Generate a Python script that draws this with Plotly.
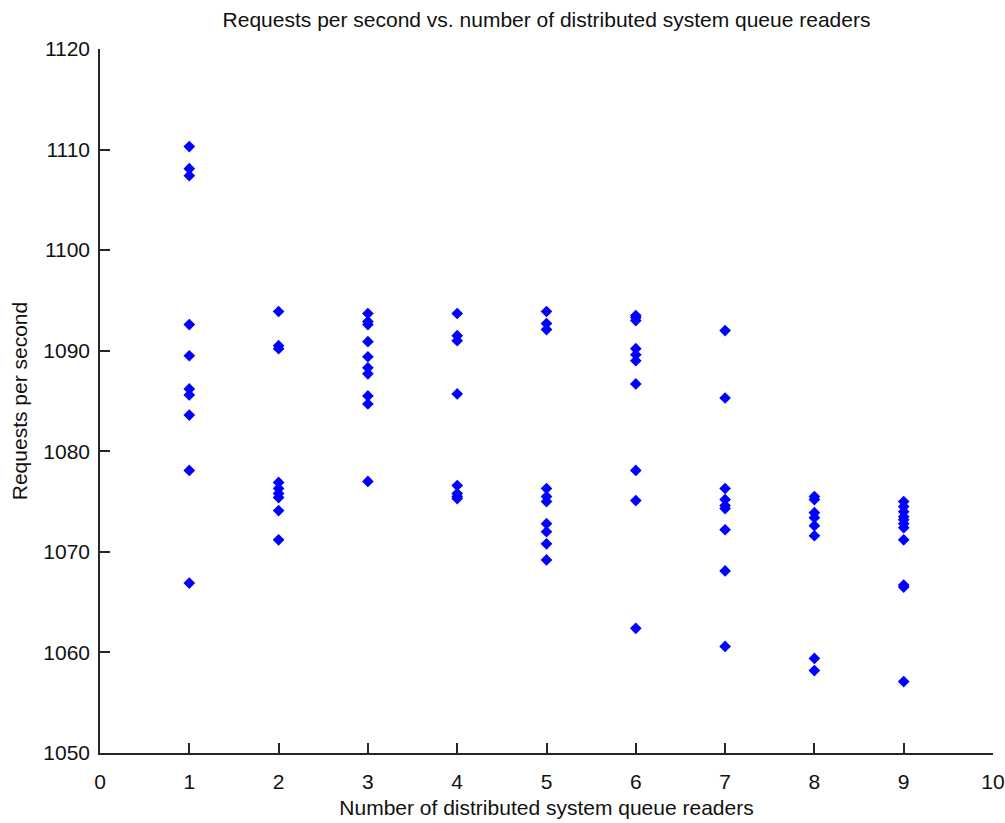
import plotly.graph_objects as go

# Throughput samples (requests per second) for each number of queue readers
readers_1 = [1110.3, 1108.1, 1107.4, 1092.6, 1089.5, 1086.2, 1085.6, 1083.6, 1078.1, 1066.9]
readers_2 = [1093.9, 1090.5, 1090.2, 1076.9, 1076.3, 1075.8, 1075.4, 1074.1, 1071.2]
readers_3 = [1093.7, 1092.9, 1092.6, 1090.9, 1089.4, 1088.3, 1087.7, 1085.5, 1084.7, 1077.0]
readers_4 = [1093.7, 1091.5, 1091.0, 1085.7, 1076.6, 1075.8, 1075.5, 1075.3]
readers_5 = [1093.9, 1092.7, 1092.1, 1076.3, 1075.5, 1075.0, 1072.8, 1072.0, 1070.8, 1069.2]
readers_6 = [1093.5, 1093.3, 1093.0, 1090.2, 1089.6, 1089.0, 1086.7, 1078.1, 1075.1, 1062.4]
readers_7 = [1092.0, 1085.3, 1076.3, 1075.2, 1074.6, 1074.3, 1072.2, 1068.1, 1060.6]
readers_8 = [1075.5, 1075.2, 1073.9, 1073.4, 1072.6, 1071.6, 1059.4, 1058.2]
readers_9 = [1075.0, 1074.5, 1074.0, 1073.5, 1073.2, 1072.8, 1072.4, 1071.2, 1066.7, 1066.5, 1057.1]

reader_counts = [1, 2, 3, 4, 5, 6, 7, 8, 9]
samples = [readers_1, readers_2, readers_3, readers_4, readers_5,
           readers_6, readers_7, readers_8, readers_9]

x_vals = []
y_vals = []
for n, vals in zip(reader_counts, samples):
    x_vals.extend([n] * len(vals))
    y_vals.extend(vals)

x_ticks = list(range(0, 11))
y_ticks = list(range(1050, 1121, 10))

font_family = "Liberation Sans, Arial, sans-serif"
axis_color = "#262626"
text_color = "#111111"

fig = go.Figure()
fig.add_trace(go.Scatter(
    x=x_vals, y=y_vals, mode="markers",
    marker=dict(symbol="diamond", size=9, color="#0000FF",
                line=dict(width=0)),
    showlegend=False,
))

fig.update_layout(
    width=1005, height=823,
    margin=dict(l=100, r=12, t=49, b=70, autoexpand=False),
    paper_bgcolor="white", plot_bgcolor="white",
    font=dict(family=font_family, size=21, color=text_color),
    title=dict(text="Requests per second vs. number of distributed system queue readers",
               x=(100 + 993) / 2 / 1005, xanchor="center",
               y=1 - 20 / 823, yanchor="middle",
               font=dict(family=font_family, size=21, color=text_color)),
)

fig.update_xaxes(
    range=[0, 10], tickvals=x_ticks, ticktext=[str(v) for v in x_ticks],
    showgrid=False, zeroline=False, automargin=False,
    showline=True, linecolor=axis_color, linewidth=1.5,
    ticks="inside", ticklen=10, tickwidth=1.5, tickcolor=axis_color,
    ticklabelstandoff=9,
    tickfont=dict(family=font_family, size=21, color=text_color),
    title=dict(text="Number of distributed system queue readers", standoff=8,
               font=dict(family=font_family, size=21, color=text_color)),
)
fig.update_yaxes(
    range=[1050, 1120], tickvals=y_ticks, ticktext=[str(v) for v in y_ticks],
    showgrid=False, zeroline=False, automargin=False,
    showline=True, linecolor=axis_color, linewidth=1.5,
    ticks="inside", ticklen=10, tickwidth=1.5, tickcolor=axis_color,
    ticklabelstandoff=4,
    tickfont=dict(family=font_family, size=21, color=text_color),
    title=dict(text="Requests per second", standoff=10,
               font=dict(family=font_family, size=21, color=text_color)),
)

fig.write_html("out.html")
